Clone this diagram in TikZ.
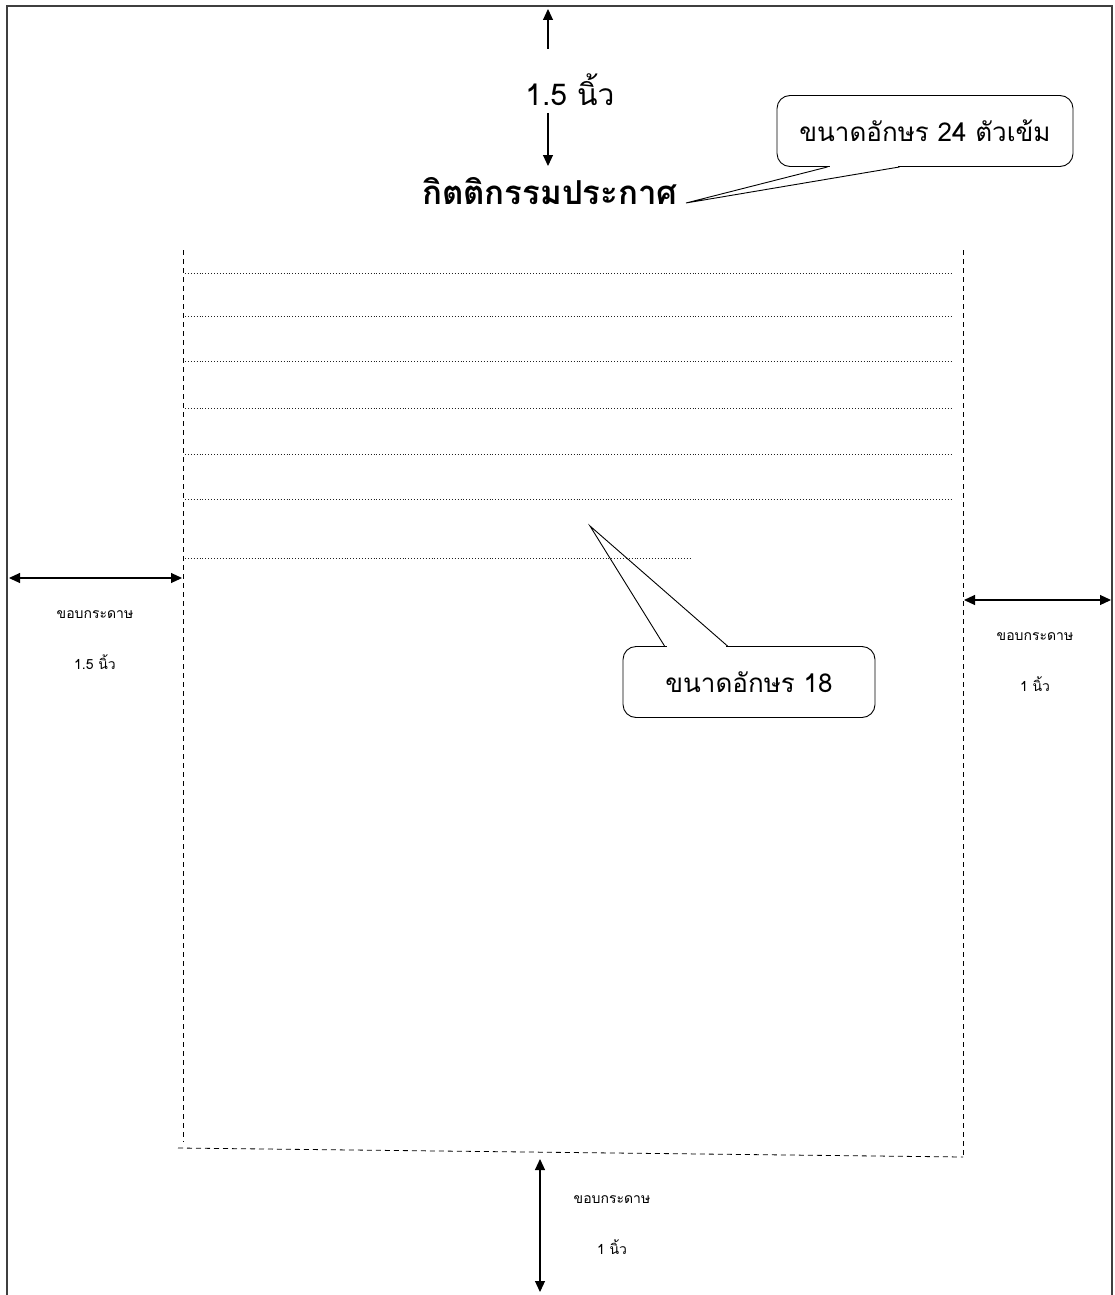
\documentclass[tikz,border=0pt]{standalone}
\usepackage{fontspec}
\newfontfamily\thaifont[Script=Thai]{Loma}
\usetikzlibrary{arrows.meta}
\definecolor{cFrame}{HTML}{3F3F3F}
\definecolor{cRule}{HTML}{222222}

\begin{document}
\begin{tikzpicture}[
  x=1pt, y=-1pt,
  >={Triangle[length=11pt,width=10pt]},
  note/.style={rectangle, rounded corners=13pt, draw, line width=0.9pt, fill=white,
               font=\thaifont\fontsize{26}{30}\selectfont, minimum height=71pt},
  lab/.style={font=\thaifont\fontsize{14}{51}\selectfont, align=center},
  dim/.style={<->, line width=1.1pt},
  rule/.style={dotted, line width=0.9pt, draw=cRule},
  edge/.style={line width=0.8pt, dash pattern=on 5pt off 4pt},
]
\useasboundingbox (0,0) rectangle (1115,1295);

% ---- paper edge ----
\draw[cFrame, line width=2pt] (7,1297) -- (7,6) -- (1112,6) -- (1112,1297);

% ---- top margin and title ----
\coordinate (edgetop) at (548,9);
\coordinate (arrtop) at (548,49);
\coordinate (arrbot) at (548,113);
\coordinate (titletop) at (548,166);
\node[font=\thaifont\fontsize{30}{34}\selectfont] (gaptop) at (570,90) {1.5 นิ้ว};
\node[font=\thaifont\bfseries\fontsize{33}{38}\selectfont, anchor=base] (title) at (550,204) {กิตติกรรมประกาศ};
\draw[->, line width=1.1pt] (arrtop) -- (edgetop);
\draw[->, line width=1.1pt] (arrbot) -- (titletop);

% ---- callout: title size ----
\node[note, minimum width=296pt] (cap24) at (925,131) {ขนาดอักษร 24 ตัวเข้ม};
\coordinate (tip24) at (686,203);
\draw[white, line width=2pt] ([xshift=53pt]cap24.south west) -- ([xshift=121pt]cap24.south west);
\draw[line width=0.9pt] ([xshift=51pt]cap24.south west) -- (tip24) -- ([xshift=123pt]cap24.south west);

% ---- text area ----
\draw[edge] (183,250) -- (183,1142);
\draw[edge] (963,250) -- (963,1157);
\draw[edge] (178,1148) -- (963,1157);
\foreach \y in {273,316,361,408,454,499} \draw[rule] (185,\y) -- (953,\y);
\draw[rule] (185,558) -- (690,558);

% ---- callout: body size ----
\node[note, minimum width=252pt] (cap18) at (749,682) {ขนาดอักษร 18};
\coordinate (tip18) at (590,526);
\draw[white, line width=2pt] ([xshift=44pt]cap18.north west) -- ([xshift=103pt]cap18.north west);
\draw[line width=0.9pt] ([xshift=42pt]cap18.north west) -- (tip18) -- ([xshift=105pt]cap18.north west);

% ---- side margins ----
\coordinate (lmout) at (9,578);
\coordinate (lmin) at (182,578);
\coordinate (rmin) at (964,600);
\coordinate (rmout) at (1111,600);
\coordinate (bmin) at (540,1159);
\coordinate (bmout) at (540,1292);
\draw[dim] (lmout) -- (lmin);
\draw[dim] (rmin) -- (rmout);
\draw[dim] (bmin) -- (bmout);
\node[lab] (leftlab) at (95,640) {ขอบกระดาษ\\1.5 นิ้ว};
\node[lab] (rightlab) at (1035,662) {ขอบกระดาษ\\1 นิ้ว};
\node[lab] (botlab) at (612,1225) {ขอบกระดาษ\\1 นิ้ว};

\end{tikzpicture}
\end{document}
